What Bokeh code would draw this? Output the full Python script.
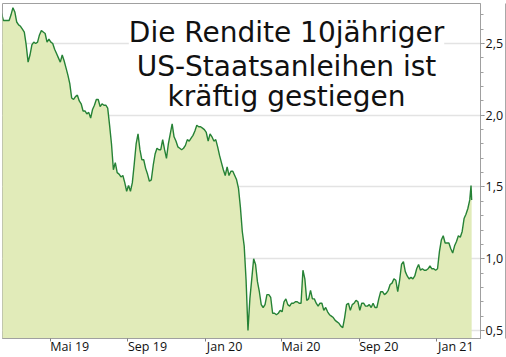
import pandas as pd
from bokeh.plotting import figure
from bokeh.models import Range1d, FixedTicker, LinearAxis, Label, ColumnDataSource
from bokeh.embed import file_html
from bokeh.resources import INLINE

start_date = "2019-02-13"
yields = [
    2.71, 2.66, 2.66, 2.66, 2.66, 2.70, 2.75, 2.72, 2.65, 2.63,
    2.62, 2.60, 2.58, 2.49, 2.37, 2.42, 2.49, 2.51, 2.50, 2.51,
    2.56, 2.59, 2.58, 2.57, 2.51, 2.53, 2.51, 2.50, 2.46, 2.43,
    2.40, 2.37, 2.42, 2.38, 2.33, 2.28, 2.22, 2.12, 2.11, 2.13,
    2.14, 2.10, 2.08, 2.03, 2.03, 2.01, 2.02, 1.98, 2.04, 2.07,
    2.11, 2.11, 2.06, 2.08, 2.07, 2.07, 2.05, 1.93, 1.80, 1.62,
    1.67, 1.60, 1.59, 1.57, 1.58, 1.53, 1.47, 1.51, 1.47, 1.53,
    1.66, 1.80, 1.87, 1.76, 1.69, 1.69, 1.63, 1.59, 1.54, 1.55,
    1.65, 1.73, 1.77, 1.76, 1.76, 1.83, 1.76, 1.70, 1.80, 1.87,
    1.94, 1.85, 1.82, 1.78, 1.77, 1.76, 1.77, 1.79, 1.83, 1.82,
    1.84, 1.86, 1.89, 1.93, 1.92, 1.92, 1.91, 1.90, 1.88, 1.82,
    1.87, 1.85, 1.82, 1.83, 1.78, 1.72, 1.67, 1.62, 1.58, 1.64,
    1.58, 1.61, 1.61, 1.58, 1.55, 1.49, 1.36, 1.19, 1.09, 0.85,
    0.50, 0.72, 0.86, 1.00, 0.96, 0.84, 0.77, 0.68, 0.66, 0.68,
    0.75, 0.75, 0.73, 0.62, 0.62, 0.61, 0.62, 0.64, 0.63, 0.70,
    0.72, 0.68, 0.67, 0.69, 0.69, 0.70, 0.70, 0.69, 0.69, 0.92,
    0.86, 0.71, 0.72, 0.78, 0.72, 0.72, 0.69, 0.67, 0.69, 0.69,
    0.64, 0.66, 0.63, 0.61, 0.60, 0.59, 0.57, 0.56, 0.55, 0.53,
    0.52, 0.59, 0.68, 0.69, 0.64, 0.68, 0.69, 0.71, 0.70, 0.64,
    0.69, 0.69, 0.67, 0.67, 0.68, 0.66, 0.69, 0.66, 0.66, 0.72,
    0.77, 0.77, 0.75, 0.76, 0.78, 0.82, 0.83, 0.86, 0.85, 0.77,
    0.85, 0.96, 0.98, 0.91, 0.88, 0.86, 0.87, 0.86, 0.88, 0.93,
    0.96, 0.92, 0.93, 0.92, 0.92, 0.93, 0.95, 0.93, 0.93, 0.92,
    0.93, 1.05, 1.13, 1.16, 1.11, 1.11, 1.11, 1.07, 1.04, 1.09,
    1.12, 1.16, 1.15, 1.19, 1.28, 1.31, 1.35, 1.41,
]
last_dates = ["2021-02-25", "2021-02-26"]
last_yields = [1.51, 1.41]

tick_months = ["2019-05-01", "2019-09-01", "2020-01-01", "2020-05-01", "2020-09-01", "2021-01-01"]
tick_labels = ["Mai 19", "Sep 19", "Jan 20", "Mai 20", "Sep 20", "Jan 21"]
y_ticks = [0.5, 1.0, 1.5, 2.0, 2.5]
y_tick_labels = ["0,5", "1,0", "1,5", "2,0", "2,5"]
title_lines = ["Die Rendite 10jähriger", "US-Staatsanleihen ist", "kräftig gestiegen"]


def ms(d):
    return int(pd.Timestamp(d).value // 10**6)


dates = list(pd.date_range(start_date, periods=len(yields), freq="3D")) + [pd.Timestamp(d) for d in last_dates]
src = ColumnDataSource(dict(date=dates, y=yields + last_yields))

DAY = 86400000
x_start = ms("2019-02-14") + DAY // 2
x_end = ms("2021-03-12")
y_lo, y_hi = 0.444, 2.779

p = figure(width=506, height=357, x_axis_type="datetime", y_axis_location="right",
           output_backend="svg", toolbar_location=None,
           x_range=Range1d(x_start, x_end), y_range=Range1d(y_lo, y_hi),
           min_border_left=2, min_border_top=3, min_border_right=0, min_border_bottom=0)
p.background_fill_color = "white"
p.border_fill_color = "white"
p.outline_line_color = "#a0a0a0"
p.outline_line_width = 1

# grid
p.xgrid.visible = False
p.ygrid.ticker = FixedTicker(ticks=y_ticks)
p.ygrid.grid_line_color = "#e3e3e3"
p.ygrid.grid_line_width = 1.5

# area + line
p.varea(x="date", y1=y_lo, y2="y", source=src, fill_color="#e1ebb9", fill_alpha=1.0)
p.line(x="date", y="y", source=src, line_color="#268236", line_width=1.4)

# x axis: ticks at month starts, labels to the right of ticks
label_offset = 31 * DAY
label_pos = [ms(d) + label_offset for d in tick_months]
xa = p.xaxis[0]
xa.ticker = FixedTicker(ticks=label_pos, minor_ticks=[ms(d) for d in tick_months])
xa.major_label_overrides = {pos: lab for pos, lab in zip(label_pos, tick_labels)}
xa.axis_line_color = "#a0a0a0"
xa.major_tick_line_color = None
xa.major_tick_out = 0
xa.major_tick_in = 0
xa.minor_tick_line_color = "#808080"
xa.minor_tick_out = 3
xa.minor_tick_in = 0
xa.major_label_standoff = -4
xa.major_label_text_font = "Open Sans"
xa.major_label_text_font_size = "12.5px"
xa.major_label_text_color = "#111111"

# y axis (right)
ya = p.yaxis[0]
ya.ticker = FixedTicker(ticks=y_ticks, minor_ticks=[round(0.5 + 0.1 * i, 1) for i in range(23)])
ya.major_label_overrides = {t: lab for t, lab in zip(y_ticks, y_tick_labels)}
ya.axis_line_color = "#a0a0a0"
ya.major_tick_line_color = "#808080"
ya.major_tick_out = 4
ya.major_tick_in = 0
ya.minor_tick_line_color = "#a0a0a0"
ya.minor_tick_out = 3
ya.minor_tick_in = 0
ya.major_label_standoff = 1
ya.major_label_text_font = "Open Sans"
ya.major_label_text_font_size = "12.5px"
ya.major_label_text_color = "#111111"

# outer right border
border_axis = LinearAxis(ticker=FixedTicker(ticks=[]), axis_line_color="#a8a8a8", axis_line_width=3,
                         major_tick_line_color=None, minor_tick_line_color=None,
                         major_label_text_font_size="0px")
p.add_layout(border_axis, "right")

# handwritten-style title
title_x = ms("2020-05-09")
title_y = [2.577, 2.34, 2.131]
for txt, ty in zip(title_lines, title_y):
    p.add_layout(Label(x=title_x, y=ty, text=txt, text_align="center", text_baseline="alphabetic",
                       text_font="DejaVu Sans", text_font_size="28px", text_color="#111111",
                       background_fill_color="white"))

open("out.html", "w").write(file_html(p, INLINE))
